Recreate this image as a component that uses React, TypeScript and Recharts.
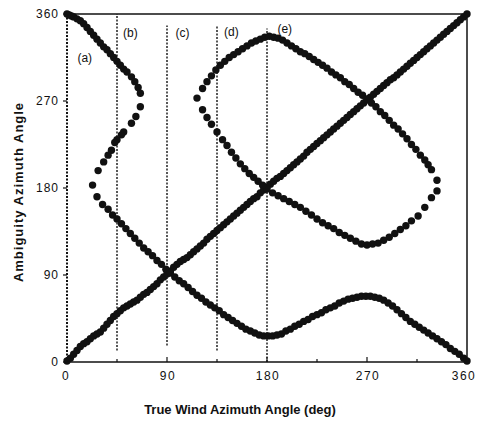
import React from 'react';
import { ScatterChart, Scatter, XAxis, YAxis, ReferenceLine, ReferenceDot } from 'recharts';

const FONT = '"Liberation Sans", Arial, Helvetica, sans-serif';

// tick values on all four sides, labels only on multiples of 90
const axisTicks = [0, 45, 90, 135, 180, 225, 270, 315, 360];

// dashed cases (b)-(e)
const caseAngles = [45, 90, 135, 180];
const caseLabels = ['(b)', '(c)', '(d)', '(e)'];

// true solution, roughly the diagonal
const trueSolution: [number, number][] = [
  [0, 1], [3, 4], [6, 8], [9, 12], [12, 16], [15, 19], [18, 21], [21, 24], [24, 27], [27, 29],
  [30, 31], [33, 35], [36, 39], [39, 43], [42, 47], [45, 50], [48, 53], [51, 56], [54, 58], [57, 60],
  [60, 62], [63, 64], [66, 67], [69, 70], [72, 72], [75, 75], [78, 78], [81, 81], [84, 85], [87, 88],
  [90, 91], [93, 94], [96, 98], [99, 101], [102, 104], [105, 106], [108, 108], [111, 111], [114, 114], [117, 117],
  [120, 120], [123, 123], [126, 127], [129, 130], [132, 133], [135, 136], [138, 139], [141, 142], [144, 145], [147, 148],
  [150, 151], [153, 154], [156, 157], [159, 160], [162, 163], [165, 166], [168, 169], [171, 171], [174, 175], [177, 178],
  [180, 181], [183, 184], [186, 187], [189, 190], [192, 192], [195, 195], [198, 198], [201, 201], [204, 204], [207, 207],
  [210, 210], [213, 213], [216, 217], [219, 220], [222, 223], [225, 226], [228, 229], [231, 232], [234, 235], [237, 238],
  [240, 241], [243, 244], [246, 247], [249, 250], [252, 253], [255, 256], [258, 259], [261, 262], [264, 265], [267, 268],
  [270, 271], [273, 274], [276, 277], [279, 280], [282, 283], [285, 286], [288, 289], [291, 292], [294, 294], [297, 297],
  [300, 300], [303, 303], [306, 306], [309, 309], [312, 312], [315, 315], [318, 318], [321, 321], [324, 324], [327, 327],
  [330, 330], [333, 333], [336, 336], [339, 339], [342, 342], [345, 345], [348, 348], [351, 351], [354, 354], [357, 357],
  [360, 360],
];

// ambiguity starting at (0,360), left lobe, then the lower wave
const ambiguityLower: [number, number][] = [
  [0, 360], [2, 359], [4, 358], [6, 357], [9, 355], [12, 353], [15, 350], [18, 346], [21, 342], [24, 338],
  [27, 334], [30, 330], [33, 326], [36, 323], [39, 319], [42, 315], [45, 311], [48, 307], [51, 303], [54, 300],
  [58, 295], [61, 290], [64, 284], [66, 278],
  [66, 264], [62, 254], [58, 247], [51, 238], [49, 235], [45, 230], [43, 227], [40, 219], [37, 214], [33, 207],
  [28, 198], [23, 183], [27, 171], [32, 163], [37, 158], [41, 152], [45, 148], [49, 143], [53, 138], [57, 133],
  [61, 128], [65, 123], [69, 118], [73, 114], [77, 110], [81, 105], [85, 101], [89, 96], [93, 92], [97, 88],
  [101, 84], [105, 81], [109, 77], [113, 73], [117, 69], [121, 66], [125, 62], [129, 59], [133, 56], [137, 53],
  [141, 49], [145, 46], [149, 43], [153, 40], [157, 37], [161, 34], [165, 32], [169, 30], [173, 28], [177, 27],
  [181, 27], [185, 27], [189, 28], [193, 29], [197, 32], [201, 34], [205, 37], [209, 39], [213, 42], [217, 44],
  [221, 47], [225, 49], [229, 51], [233, 54], [237, 56], [241, 58], [245, 61], [249, 63], [253, 65], [257, 66],
  [261, 67], [265, 68], [269, 68], [273, 68], [277, 67], [281, 66], [285, 64], [289, 61], [293, 58], [297, 54],
  [301, 50], [305, 46], [309, 42], [313, 39], [317, 36], [321, 33], [325, 30], [329, 27], [333, 24], [337, 21],
  [341, 18], [345, 14], [349, 11], [353, 8], [357, 4], [360, 1],
];

// closed ambiguity loop on the right
const ambiguityLoop: [number, number][] = [
  [117, 273], [122, 283], [126, 290], [130, 296], [134, 302], [138, 307], [142, 311], [146, 315], [150, 318], [154, 321],
  [158, 324], [162, 327], [166, 330], [170, 332], [174, 334], [178, 336], [182, 337], [186, 336], [190, 335], [194, 333],
  [198, 330], [202, 327], [206, 324], [210, 321], [214, 319], [218, 316], [222, 313], [226, 310], [230, 307], [234, 304],
  [238, 300], [242, 297], [246, 294], [250, 290], [254, 287], [258, 283], [262, 279], [266, 276], [270, 272], [274, 268],
  [278, 264], [282, 259], [286, 255], [290, 250], [294, 245], [298, 241], [302, 236], [306, 231], [310, 225], [314, 220],
  [318, 214], [322, 209], [325, 204], [328, 199], [333, 188], [333, 177], [328, 170], [322, 160], [316, 151], [310, 146],
  [305, 141], [300, 137], [295, 133], [290, 129], [285, 126], [280, 123], [275, 122], [270, 121], [265, 122], [260, 125],
  [255, 128], [250, 131], [245, 134], [240, 138], [235, 141], [230, 144], [225, 148], [220, 152], [215, 156], [210, 160],
  [205, 163], [200, 166], [195, 169], [190, 172], [185, 175], [180, 179], [176, 183], [172, 187], [168, 191], [164, 195],
  [160, 200], [156, 205], [152, 211], [148, 217], [144, 224], [140, 230], [135, 238], [130, 246], [126, 253], [122, 261],
];

const toPoints = (arr: [number, number][]) => arr.map(([x, y]) => ({ x, y }));

const Dot = (p: any) => <circle cx={p.cx} cy={p.cy} r={3.7} fill="#111" />;

const tickLen = (v: number) => (v % 90 === 0 ? 5 : 3);

const BottomTick = (p: any) => {
  const v = p.payload.value;
  const shift = v === 360 ? -2 : v === 0 ? -1 : 1;
  return (
    <g>
      <line x1={p.x} y1={p.y} x2={p.x} y2={p.y - tickLen(v)} stroke="#111" strokeWidth={1.2} />
      {v % 90 === 0 && (
        <text x={p.x + shift} y={p.y + 18} textAnchor="middle" fontSize={12} letterSpacing={1.5} fontFamily={FONT} fill="#111">
          {v}
        </text>
      )}
    </g>
  );
};

const TopTick = (p: any) => (
  <line x1={p.x} y1={p.y} x2={p.x} y2={p.y + tickLen(p.payload.value)} stroke="#111" strokeWidth={1.2} />
);

const LeftTick = (p: any) => {
  const v = p.payload.value;
  if (v % 90 !== 0) return <g />;
  return (
    <g>
      <line x1={p.x - 4} y1={p.y} x2={p.x} y2={p.y} stroke="#111" strokeWidth={1.2} />
      <text x={p.x - 8} y={p.y + 4} textAnchor="end" fontSize={12} letterSpacing={1} fontFamily={FONT} fill="#111">
        {v}
      </text>
    </g>
  );
};

const RightTick = (p: any) => (
  <line x1={p.x} y1={p.y} x2={p.x - tickLen(p.payload.value)} y2={p.y} stroke="#111" strokeWidth={1.2} />
);

const XTitle = (p: any) => {
  const vb = p.viewBox;
  return (
    <text x={vb.x + 173} y={vb.y + 52} textAnchor="middle" fontSize={13} fontWeight="bold" fontFamily={FONT} fill="#111">
      True Wind Azimuth Angle (deg)
    </text>
  );
};

const YTitle = (p: any) => {
  const vb = p.viewBox;
  const cx = vb.x + 18;
  const cy = vb.y + 178;
  return (
    <text
      x={cx}
      y={cy}
      transform={`rotate(-90, ${cx}, ${cy})`}
      textAnchor="middle"
      dominantBaseline="central"
      fontSize={13}
      fontWeight="bold"
      letterSpacing={1}
      fontFamily={FONT}
      fill="#111"
    >
      Ambiguity Azimuth Angle
    </text>
  );
};

const caseText = (value: string) => (p: any) => {
  const vb = p.viewBox;
  return (
    <text x={vb.x} y={vb.y + 4} textAnchor="middle" fontSize={12} fontFamily={FONT} fill="#111">
      {value}
    </text>
  );
};

// where each case label sits, in data units
const labelSpots = [
  { x: 16, y: 315, text: '(a)' },
  { x: 57, y: 340, text: caseLabels[0] },
  { x: 104, y: 340, text: caseLabels[1] },
  { x: 148, y: 341, text: caseLabels[2] },
  { x: 196, y: 345, text: caseLabels[3] },
];

const lineSpans = [
  [12, 360],
  [17, 348],
  [12, 347],
  [0, 345],
];

export default function App() {
  return (
    <div style={{ position: 'absolute', left: 0, top: 0, background: '#fff' }}>
      <ScatterChart width={478} height={424} margin={{ top: 0, right: 0, bottom: 0, left: 0 }}>
        <XAxis
          xAxisId="b"
          dataKey="x"
          type="number"
          orientation="bottom"
          domain={[0, 360]}
          ticks={axisTicks}
          height={62}
          tickSize={0}
          tickMargin={0}
          tickLine={false}
          tick={BottomTick}
          axisLine={{ stroke: '#111', strokeWidth: 1.5 }}
          label={XTitle}
        />
        <XAxis
          xAxisId="t"
          type="number"
          orientation="top"
          domain={[0, 360]}
          ticks={axisTicks}
          height={14}
          tickSize={0}
          tickMargin={0}
          tickLine={false}
          tick={TopTick}
          axisLine={{ stroke: '#111', strokeWidth: 1.5 }}
        />
        <YAxis
          yAxisId="l"
          dataKey="y"
          type="number"
          orientation="left"
          domain={[0, 360]}
          ticks={axisTicks}
          width={67}
          tickSize={0}
          tickMargin={0}
          tickLine={false}
          tick={LeftTick}
          axisLine={{ stroke: '#111', strokeWidth: 2, strokeDasharray: '2 1.5' }}
          label={YTitle}
        />
        <YAxis
          yAxisId="r"
          type="number"
          orientation="right"
          domain={[0, 360]}
          ticks={axisTicks}
          width={11}
          tickSize={0}
          tickMargin={0}
          tickLine={false}
          tick={RightTick}
          axisLine={{ stroke: '#111', strokeWidth: 1.5 }}
        />
        {caseAngles.map((a, i) => (
          <ReferenceLine
            key={a}
            xAxisId="b"
            yAxisId="l"
            segment={[
              { x: a, y: lineSpans[i][0] },
              { x: a, y: lineSpans[i][1] },
            ]}
            stroke="#111"
            strokeWidth={1.4}
            strokeDasharray="2 1.5"
          />
        ))}
        {labelSpots.map((s) => (
          <ReferenceDot
            key={s.text}
            xAxisId="b"
            yAxisId="l"
            x={s.x}
            y={s.y}
            r={0}
            fill="none"
            stroke="none"
            label={caseText(s.text)}
          />
        ))}
        <Scatter xAxisId="b" yAxisId="l" data={toPoints(trueSolution)} shape={Dot} isAnimationActive={false} />
        <Scatter xAxisId="b" yAxisId="l" data={toPoints(ambiguityLower)} shape={Dot} isAnimationActive={false} />
        <Scatter xAxisId="b" yAxisId="l" data={toPoints(ambiguityLoop)} shape={Dot} isAnimationActive={false} />
      </ScatterChart>
    </div>
  );
}
